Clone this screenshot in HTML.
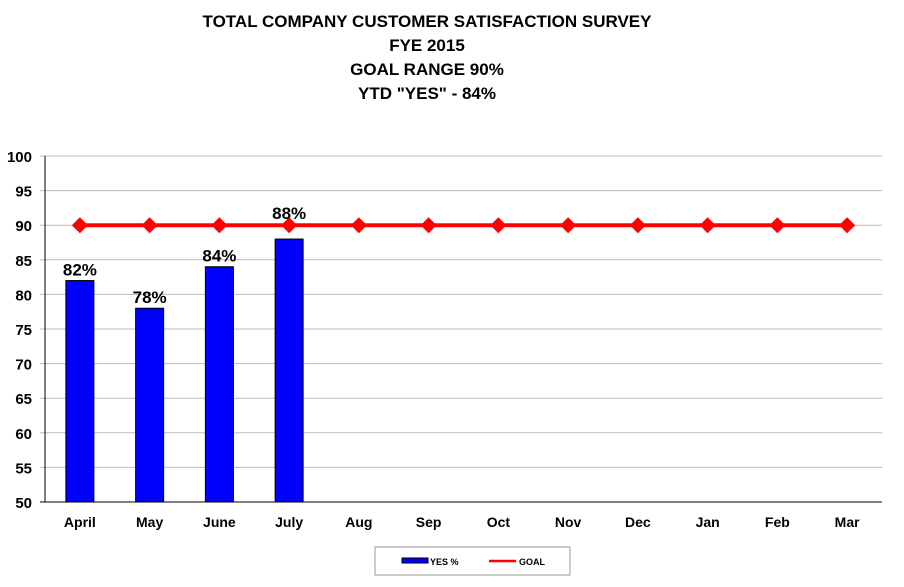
<!DOCTYPE html>
<html><head><meta charset="utf-8"><style>
body{margin:0;background:#fff;width:904px;height:582px;overflow:hidden;font-family:"Liberation Sans",Arial,sans-serif}
</style></head><body>
<svg id="c" width="904" height="582" font-family="Liberation Sans, Arial, sans-serif">
<g font-weight="bold" font-size="17" text-anchor="middle" fill="#000">
<text x="427" y="27">TOTAL COMPANY CUSTOMER SATISFACTION SURVEY</text>
<text x="427" y="51">FYE 2015</text>
<text x="427" y="75">GOAL RANGE 90%</text>
<text x="427" y="99">YTD "YES" - 84%</text>
</g>
<g id="grid"></g><g id="bars"></g><g id="goal"></g><g id="labels"></g><g id="axes"></g>
<g>
<rect x="375" y="547" width="195" height="28" fill="#fff" stroke="#999"/>
<rect x="402" y="558" width="26" height="5" fill="#0000ff" stroke="#000" stroke-width="1"/>
<text x="430" y="565" font-size="9" font-weight="bold">YES %</text>
<line x1="489" y1="561" x2="516" y2="561" stroke="#ff0000" stroke-width="2.5"/>
<text x="519" y="565" font-size="9" font-weight="bold">GOAL</text>
</g>
</svg>
<script>
const categories=["April","May","June","July","Aug","Sep","Oct","Nov","Dec","Jan","Feb","Mar"];
const yesValues=[82,78,84,88];
const goalValues=[90,90,90,90,90,90,90,90,90,90,90,90];
const yTicks=[50,55,60,65,70,75,80,85,90,95,100];
const NS="http://www.w3.org/2000/svg";
const L=45,R=882,T=156,B=502,ymin=50,ymax=100;
const bw=(R-L)/categories.length;
const x=i=>L+bw*(i+0.5);
const y=v=>B-(v-ymin)/(ymax-ymin)*(B-T);
function mk(tag,attrs,parent,txt){const e=document.createElementNS(NS,tag);for(const k in attrs)e.setAttribute(k,attrs[k]);if(txt!==undefined)e.textContent=txt;document.getElementById(parent).appendChild(e);return e;}
yTicks.forEach(t=>{
 const g=mk('line',{x1:40,x2:R,y1:y(t),y2:y(t),stroke:t===50?'#000':'#bbb','stroke-width':1},'grid');
 
 
 const lb=mk('text',{x:32,y:y(t)+6,'text-anchor':'end','font-size':15,'font-weight':'bold'},'axes',t);
 
 
});
const ax=mk('line',{x1:L,x2:L,y1:T,y2:B,stroke:'#000'},'axes');


categories.forEach((c,i)=>{
 const lb=mk('text',{x:x(i),y:527,'text-anchor':'middle','font-size':14,'font-weight':'bold'},'axes',c);
 
 
});
yesValues.forEach((v,i)=>{
 const r=mk('rect',{x:x(i)-14,y:y(v),width:28,height:B-y(v),fill:'#0000ff',stroke:'#000','stroke-width':1},'bars');
 
 
 let ly=y(v)-5;
 const gy=y(goalValues[i]);
 if(ly>gy-12 && ly<gy+26) ly=gy-6;
 const t=mk('text',{x:x(i),y:ly,'text-anchor':'middle','font-size':17,'font-weight':'bold'},'labels',v+'%');
 
 
});
const pl=mk('polyline',{points:goalValues.map((v,i)=>x(i)+','+y(v)).join(' '),fill:'none',stroke:'#ff0000','stroke-width':4},'goal');


goalValues.forEach((v,i)=>{
 const d=mk('polygon',{points:`${x(i)},${y(v)-8} ${x(i)+8},${y(v)} ${x(i)},${y(v)+8} ${x(i)-8},${y(v)}`,fill:'#ff0000'},'goal');
 
 
});
</script>
</body></html>
